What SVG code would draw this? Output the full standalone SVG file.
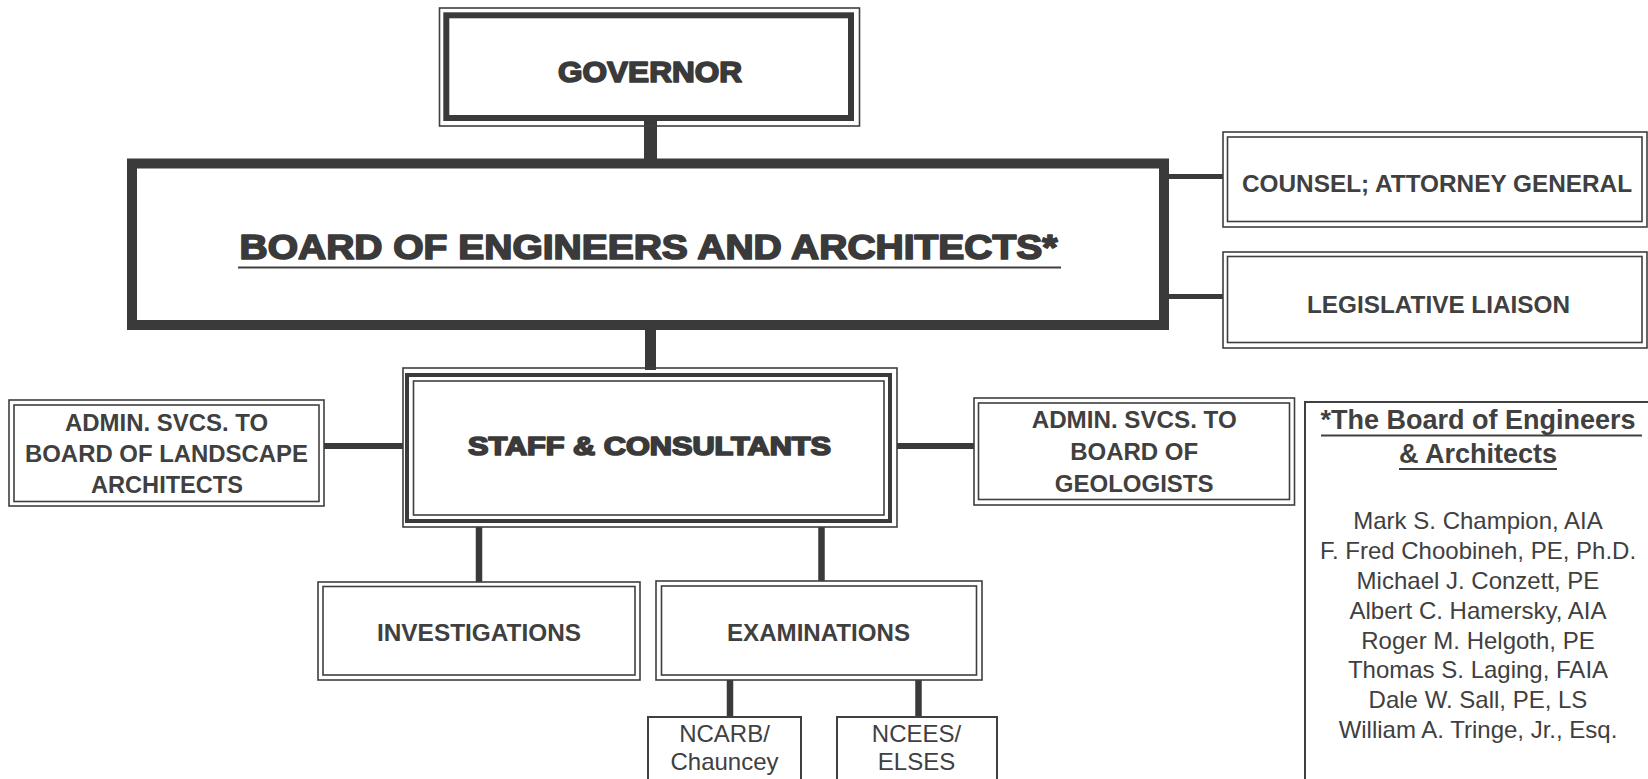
<svg xmlns="http://www.w3.org/2000/svg" width="1648" height="779" viewBox="0 0 1648 779">
<style>
.bg{fill:#ffffff}
.thin{fill:none;stroke:#3f3f3f;stroke-width:1.6}
.single{fill:none;stroke:#404040;stroke-width:2}
.conn{stroke:#3a3a3a;fill:none}
.heavy{font-family:"Liberation Sans",Arial,sans-serif;font-weight:bold;fill:#3a3a3a;stroke:#3a3a3a;stroke-width:1.7;stroke-linejoin:round;text-anchor:middle}
.bold{font-family:"Liberation Sans",Arial,sans-serif;font-weight:bold;fill:#404040;font-size:24px;text-anchor:middle}
.reg{font-family:"Liberation Sans",Arial,sans-serif;fill:#404040;font-size:24px;text-anchor:middle}
.ul{stroke:#404040;stroke-width:2}
</style>
<rect class="bg" x="0" y="0" width="1648" height="779"/>

<g id="connectors">
  <line class="conn" x1="650.5" y1="120" x2="650.5" y2="160" stroke-width="13"/>
  <line class="conn" x1="650.5" y1="328" x2="650.5" y2="370" stroke-width="11"/>
  <line class="conn" x1="1168" y1="176.5" x2="1223" y2="176.5" stroke-width="5"/>
  <line class="conn" x1="1168" y1="296.5" x2="1223" y2="296.5" stroke-width="5"/>
  <line class="conn" x1="324" y1="446" x2="403" y2="446" stroke-width="6"/>
  <line class="conn" x1="897" y1="446" x2="974" y2="446" stroke-width="6"/>
  <line class="conn" x1="479" y1="527" x2="479" y2="582" stroke-width="6.5"/>
  <line class="conn" x1="821.5" y1="527" x2="821.5" y2="581" stroke-width="6.5"/>
  <line class="conn" x1="730" y1="680" x2="730" y2="717" stroke-width="6.5"/>
  <line class="conn" x1="918.5" y1="680" x2="918.5" y2="717" stroke-width="6.5"/>
</g>

<g id="governor">
  <rect class="thin" x="439.5" y="8" width="420" height="118" fill="#fff"/>
  <rect x="446.3" y="15.3" width="404.7" height="102.7" fill="#fff" stroke="#3a3a3a" stroke-width="6"/>
  <text class="heavy" x="650" y="82" font-size="30" textLength="184" lengthAdjust="spacingAndGlyphs">GOVERNOR</text>
</g>

<g id="board">
  <rect x="132" y="163.5" width="1032" height="161.5" fill="#fff" stroke="#3a3a3a" stroke-width="10"/>
  <text class="heavy" x="648.5" y="259" font-size="35" textLength="818" lengthAdjust="spacingAndGlyphs">BOARD OF ENGINEERS AND ARCHITECTS*</text>
  <line class="ul" x1="238" y1="267.5" x2="1061" y2="267.5"/>
</g>

<g id="counsel">
  <rect class="thin" x="1223" y="132" width="424" height="95" fill="#fff"/>
  <rect class="thin" x="1227.5" y="137" width="414.5" height="84.5"/>
  <text class="bold" x="1437" y="192" textLength="390" lengthAdjust="spacingAndGlyphs">COUNSEL; ATTORNEY GENERAL</text>
</g>

<g id="legislative">
  <rect class="thin" x="1223" y="252" width="424" height="96" fill="#fff"/>
  <rect class="thin" x="1227.5" y="256.5" width="414.5" height="86"/>
  <text class="bold" x="1438.5" y="313" textLength="263" lengthAdjust="spacingAndGlyphs">LEGISLATIVE LIAISON</text>
</g>

<g id="staff">
  <rect class="thin" x="403" y="368" width="494" height="159" fill="#fff"/>
  <rect x="407" y="375" width="483" height="146" fill="none" stroke="#3a3a3a" stroke-width="4"/>
  <rect class="thin" x="413.5" y="381" width="470.5" height="134"/>
  <text class="heavy" x="649.5" y="455" font-size="25" textLength="363" lengthAdjust="spacingAndGlyphs">STAFF &amp; CONSULTANTS</text>
</g>

<g id="landscape">
  <rect class="thin" x="9" y="400" width="315" height="106" fill="#fff"/>
  <rect class="thin" x="14" y="405" width="305" height="96.5"/>
  <text class="bold" x="166.5" y="430.5" textLength="203" lengthAdjust="spacingAndGlyphs">ADMIN. SVCS. TO</text>
  <text class="bold" x="166.5" y="461.7" textLength="283" lengthAdjust="spacingAndGlyphs">BOARD OF LANDSCAPE</text>
  <text class="bold" x="167" y="493.3" textLength="152" lengthAdjust="spacingAndGlyphs">ARCHITECTS</text>
</g>

<g id="geologists">
  <rect class="thin" x="974" y="398" width="320.5" height="107" fill="#fff"/>
  <rect class="thin" x="978.5" y="403" width="311" height="96.5"/>
  <text class="bold" x="1134.2" y="427.5" textLength="205" lengthAdjust="spacingAndGlyphs">ADMIN. SVCS. TO</text>
  <text class="bold" x="1134.2" y="460">BOARD OF</text>
  <text class="bold" x="1134.2" y="491.7">GEOLOGISTS</text>
</g>

<g id="members">
  <path class="single" d="M1305 779 V402 H1650"/>
  <text class="bold" x="1478" y="429" style="font-size:27px">*The Board of Engineers</text>
  <line class="ul" x1="1321" y1="435.5" x2="1642" y2="435.5"/>
  <text class="bold" x="1478" y="463" style="font-size:27px">&amp; Architects</text>
  <line class="ul" x1="1399" y1="469" x2="1557" y2="469"/>
  <text class="reg" x="1478" y="529.3">Mark S. Champion, AIA</text>
  <text class="reg" x="1478" y="559.1">F. Fred Choobineh, PE, Ph.D.</text>
  <text class="reg" x="1478" y="588.9">Michael J. Conzett, PE</text>
  <text class="reg" x="1478" y="618.7">Albert C. Hamersky, AIA</text>
  <text class="reg" x="1478" y="648.5">Roger M. Helgoth, PE</text>
  <text class="reg" x="1478" y="678.3">Thomas S. Laging, FAIA</text>
  <text class="reg" x="1478" y="708.1">Dale W. Sall, PE, LS</text>
  <text class="reg" x="1478" y="737.9">William A. Tringe, Jr., Esq.</text>
</g>

<g id="investigations">
  <rect class="thin" x="318" y="582" width="322" height="98" fill="#fff"/>
  <rect class="thin" x="323" y="586.5" width="312" height="88.5"/>
  <text class="bold" x="479" y="641" textLength="204" lengthAdjust="spacingAndGlyphs">INVESTIGATIONS</text>
</g>

<g id="examinations">
  <rect class="thin" x="656" y="581" width="326" height="99" fill="#fff"/>
  <rect class="thin" x="661.5" y="586" width="315" height="89"/>
  <text class="bold" x="818.5" y="641" textLength="183" lengthAdjust="spacingAndGlyphs">EXAMINATIONS</text>
</g>

<g id="ncarb">
  <path class="single" d="M648 781 V717 H801 V781"/>
  <text class="reg" x="724.5" y="742">NCARB/</text>
  <text class="reg" x="724.5" y="770">Chauncey</text>
</g>

<g id="ncees">
  <path class="single" d="M837 781 V717 H997 V781"/>
  <text class="reg" x="916.5" y="742">NCEES/</text>
  <text class="reg" x="916.5" y="770">ELSES</text>
</g>
</svg>
